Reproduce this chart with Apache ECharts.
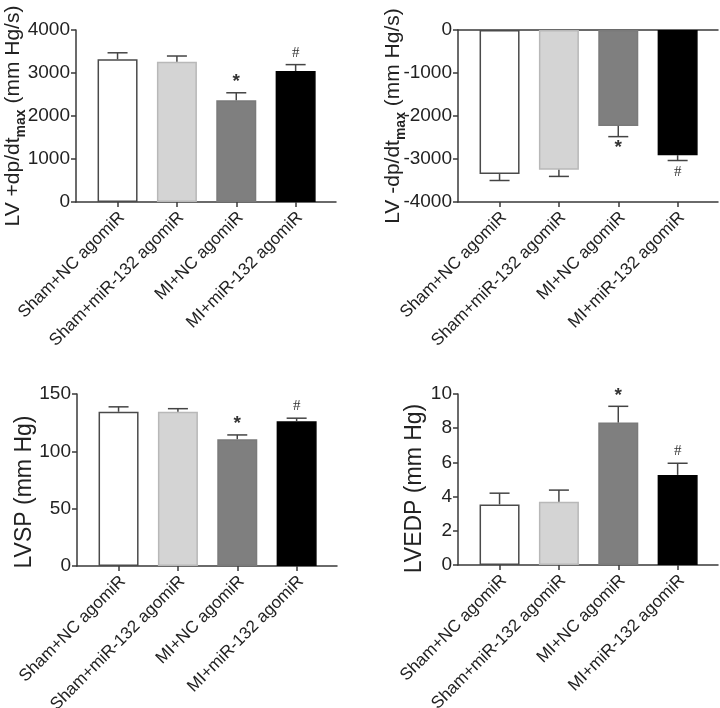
<!DOCTYPE html>
<html>
<head>
<meta charset="utf-8">
<script src="https://cdn.jsdelivr.net/npm/echarts@6/dist/echarts.min.js"></script>
<style>
html,body{margin:0;padding:0;background:#fff;}
#c{width:720px;height:708px;}
</style>
</head>
<body>
<div id="c"></div>
<script>
const categories = ['Sham+NC agomiR', 'Sham+miR-132 agomiR', 'MI+NC agomiR', 'MI+miR-132 agomiR'];
const marks = ['', '', '*', '#'];
const dpdtMaxMean = [3320, 3260, 2365, 3045];
const dpdtMaxErr = [150, 135, 175, 150];
const dpdtMinMean = [-3350, -3250, -2230, -2910];
const dpdtMinErr = [150, 155, 250, 125];
const lvspMean = [134.5, 134.5, 110.6, 126.3];
const lvspErr = [4.3, 2.7, 3.7, 2.6];
const lvedpMean = [3.54, 3.70, 8.33, 5.27];
const lvedpErr = [0.66, 0.68, 0.95, 0.68];
const yTicks1 = [0, 4000, 1000];
const yTicks2 = [-4000, 0, 1000];
const yTicks3 = [0, 150, 50];
const yTicks4 = [0, 10, 2];

const barColors = ['#ffffff', '#d4d4d4', '#7f7f7f', '#000000'];
const barBorders = ['#4a4a4a', '#b8b8b8', '#7a7a7a', '#000000'];
const axisColor = '#3a3a3a';
const textColor = '#222';
const FONT = 'Liberation Sans, Arial, sans-serif';

const panels = [
  {grid: {left: 76, top: 30, width: 260, height: 172}, ticks: yTicks1, mean: dpdtMaxMean, err: dpdtMaxErr,
   name: '{n|LV +dp/dt}{s|max}{n| (mm Hg/s)}', nameGap: 48, nameSize: 21, namePad: 0},
  {grid: {left: 458, top: 30, width: 260, height: 172}, ticks: yTicks2, mean: dpdtMinMean, err: dpdtMinErr,
   name: '{n|LV -dp/dt}{s|max}{n| (mm Hg/s)}', nameGap: 50, nameSize: 21, namePad: 0, topLine: true},
  {grid: {left: 77, top: 394, width: 260, height: 172}, ticks: yTicks3, mean: lvspMean, err: lvspErr,
   name: '{n|LVSP (mm Hg)}', nameGap: 39, nameSize: 23, namePad: 24},
  {grid: {left: 458, top: 394, width: 260, height: 171}, ticks: yTicks4, mean: lvedpMean, err: lvedpErr,
   name: '{n|LVEDP (mm Hg)}', nameGap: 30, nameSize: 23, namePad: 18}
];

const grids = [], xAxes = [], yAxes = [], series = [];
panels.forEach((p, gi) => {
  grids.push(Object.assign({outerBoundsMode: 'none', containLabel: false}, p.grid));
  const xi = xAxes.length;
  xAxes.push({
    type: 'value', gridIndex: gi, min: -0.7, max: 3.68, position: 'bottom',
    splitLine: {show: false},
    axisLine: {show: true, onZero: false, lineStyle: {color: axisColor, width: 1.5}},
    axisTick: {show: true, customValues: [0, 1, 2, 3], length: 5, lineStyle: {color: axisColor, width: 1.5}},
    axisLabel: {show: true, customValues: [0, 1, 2, 3], rotate: 45, fontSize: 17, fontFamily: FONT,
      color: textColor, margin: 17, padding: [0, -6, 0, 0],
      formatter: v => categories[Math.round(v)]}
  });
  if (p.topLine) {
    xAxes.push({
      type: 'value', gridIndex: gi, min: -0.7, max: 3.68, position: 'top',
      splitLine: {show: false},
      axisLine: {show: true, onZero: false, lineStyle: {color: axisColor, width: 1.5}},
      axisTick: {show: false}, axisLabel: {show: false}
    });
  }
  yAxes.push({
    type: 'value', gridIndex: gi, min: p.ticks[0], max: p.ticks[1], interval: p.ticks[2],
    splitLine: {show: false},
    axisLine: {show: true, onZero: false, lineStyle: {color: axisColor, width: 1.5}},
    axisTick: {show: true, length: 5, lineStyle: {color: axisColor, width: 1.5}},
    axisLabel: {fontSize: 19, fontFamily: FONT, color: textColor, margin: 6, formatter: v => String(v)},
    name: p.name, nameLocation: 'middle', nameGap: p.nameGap, nameMoveOverlap: false,
    nameTextStyle: {
      fontFamily: FONT, color: textColor, padding: [0, p.namePad, 0, 0],
      rich: {
        n: {fontSize: p.nameSize, fontFamily: FONT, color: textColor, lineHeight: 26},
        s: {fontSize: 14, fontWeight: 'bold', fontFamily: FONT, color: textColor, verticalAlign: 'bottom', lineHeight: 30}
      }
    }
  });
  series.push({
    type: 'bar', xAxisIndex: xi, yAxisIndex: gi, barWidth: 40,
    data: p.mean.map((v, i) => ({value: [i, v], itemStyle: {color: barColors[i], borderColor: barBorders[i], borderWidth: 1.5}})),
    z: 2
  });
  series.push({
    type: 'custom', xAxisIndex: xi, yAxisIndex: gi, z: 3,
    data: p.mean.map((v, i) => [i, v, p.err[i]]),
    renderItem: (params, api) => {
      const x = api.value(0), m = api.value(1), e = api.value(2);
      const dir = m < 0 ? -1 : 1;
      const p0 = api.coord([x, m]);
      const p1 = api.coord([x, m + dir * e]);
      const mk = marks[params.dataIndex];
      const style = {stroke: '#444', lineWidth: 1.5};
      const children = [
        {type: 'line', shape: {x1: p0[0], y1: p0[1], x2: p1[0], y2: p1[1]}, style},
        {type: 'line', shape: {x1: p1[0] - 10, y1: p1[1], x2: p1[0] + 10, y2: p1[1]}, style}
      ];
      if (mk) {
        const off = mk === '*' ? 11 : 12;
        children.push({
          type: 'text',
          style: {
            text: mk, x: p1[0], y: p1[1] - dir * off,
            align: 'center', verticalAlign: 'middle',
            fill: '#333',
            font: mk === '*' ? 'bold 19px Liberation Sans, Arial, sans-serif' : '15px Liberation Serif, Times New Roman, serif'
          }
        });
      }
      return {type: 'group', children};
    }
  });
});

const chart = echarts.init(document.getElementById('c'), null, {renderer: 'canvas'});
chart.setOption({
  animation: false,
  backgroundColor: '#ffffff',
  grid: grids, xAxis: xAxes, yAxis: yAxes, series
});
</script>
</body>
</html>
